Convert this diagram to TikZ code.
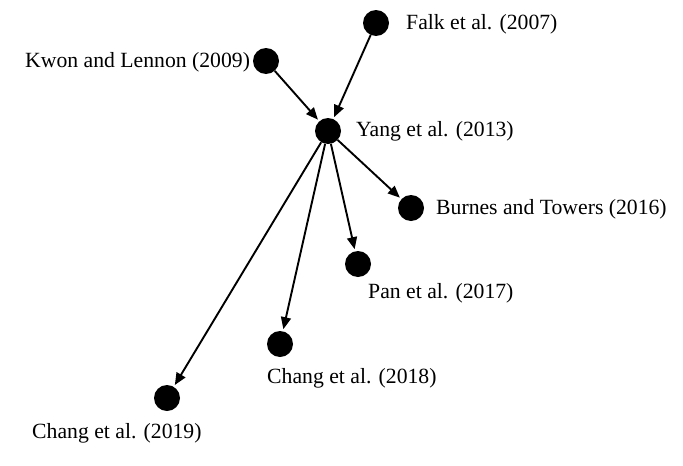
\documentclass[tikz,border=0pt]{standalone}
\usepackage{fontspec}
\setmainfont{Liberation Serif}
\usetikzlibrary{arrows.meta}
\begin{document}
\begin{tikzpicture}[x=1pt,y=-1pt,
  paper/.style={circle,fill=black,minimum size=26pt,inner sep=0pt},
  lbl/.style={anchor=west,inner sep=0pt,font=\fontsize{21.7pt}{24pt}\selectfont},
  cite/.style={draw=black,line width=1.9pt,shorten >=2pt,shorten <=0pt,
    -{Triangle[length=12pt,width=10pt]}}]
\useasboundingbox (0,0) rectangle (683,466);
% citation nodes
\node[paper] (falk)   at (376,23)  {};
\node[paper] (kwon)   at (266,61)  {};
\node[paper] (yang)   at (328,131) {};
\node[paper] (burnes) at (411,208) {};
\node[paper] (pan)    at (358,264) {};
\node[paper] (ch18)   at (280,344) {};
\node[paper] (ch19)   at (167,398) {};
% labels
\node[lbl] (lfalk)   at (406,24)  {Falk et al. (2007)};
\node[lbl] (lkwon)   at (25,62)   {Kwon and Lennon (2009)};
\node[lbl] (lyang)   at (356,131) {Yang et al. (2013)};
\node[lbl] (lburnes) at (436,209) {Burnes and Towers (2016)};
\node[lbl] (lpan)    at (368,293) {Pan et al. (2017)};
\node[lbl] (lch18)   at (267,378) {Chang et al. (2018)};
\node[lbl] (lch19)   at (32,433)  {Chang et al. (2019)};
% citation links
\draw[cite] (falk) -- (yang);
\draw[cite] (kwon) -- (yang);
\draw[cite] (yang) -- (burnes);
\draw[cite] (yang) -- (pan);
\draw[cite] (yang) -- (ch18);
\draw[cite] (yang) -- (ch19);
\end{tikzpicture}
\end{document}
